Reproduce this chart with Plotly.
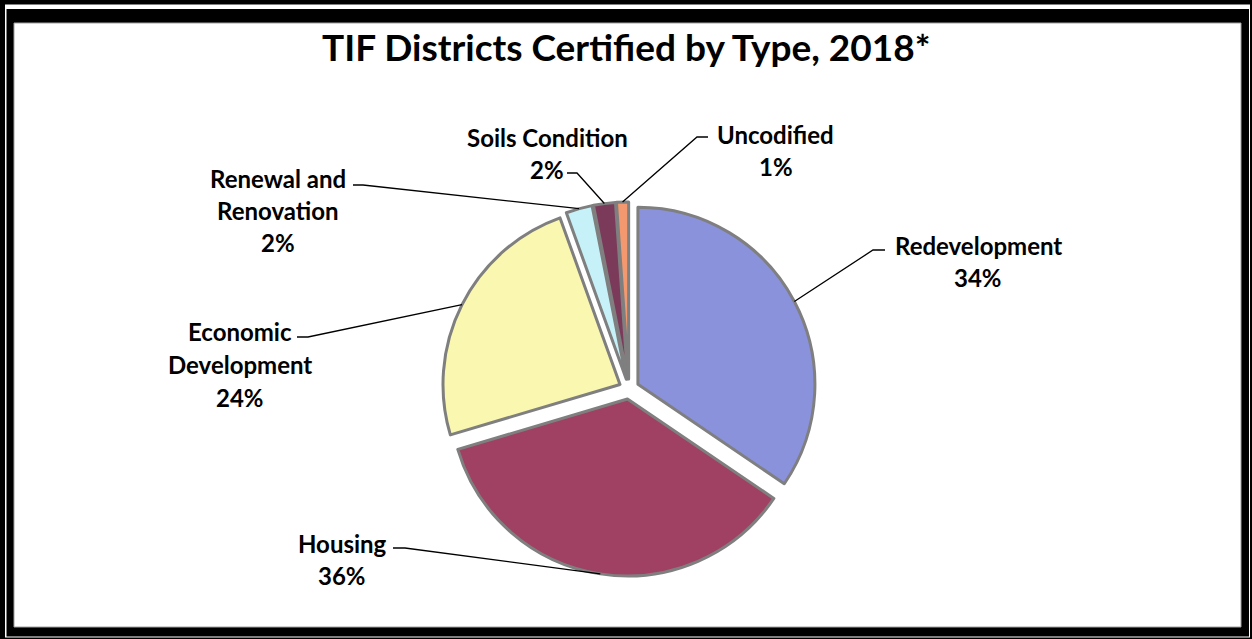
import math
import plotly.graph_objects as go

# ---------------- data ----------------
categories = ["Redevelopment", "Housing", "Economic Development",
              "Renewal and Renovation", "Soils Condition", "Uncodified"]
values = [34.5, 35.9, 24.1, 2.4, 2.0, 1.1]
label_lines = [["Redevelopment"], ["Housing"], ["Economic", "Development"],
               ["Renewal and", "Renovation"], ["Soils Condition"], ["Uncodified"]]
colors = ["#8B92DC", "#A04062", "#FAF8B0", "#C6F1F8", "#7B3A5A", "#F4996F"]
title_text = "TIF Districts Certified by Type, 2018*"

# ---------------- layout geometry (pixels) ----------------
W, H = 1252, 639
CX, CY, R, PULL = 629, 389, 177, 0.057
half = R * (1 + PULL)

def px(x):
    return x / W

def py(y):
    return 1 - y / H

# label block: (center x, first line y), elbow (label-side x, bend x, y)
label_pos = [(978, 245), (342, 543), (240, 332), (278, 178), (547, 137), (776, 134)]
elbows = [(885, 873, 250), (393, 405, 548), (297, 308, 337),
          (353, 363, 185), (567, 577, 173), (708, 697, 137)]
LINE_H = 32.5

FONT = "Lato, 'Open Sans', sans-serif"

fig = go.Figure()
fig.add_trace(go.Pie(
    labels=categories, values=values, sort=False, direction="clockwise",
    rotation=0, pull=PULL, textinfo="none", hoverinfo="label+percent",
    marker=dict(colors=colors, line=dict(color="#7F7F7F", width=3)),
    domain=dict(x=[px(CX - half), px(CX + half)],
                y=[py(CY + half), py(CY - half)]),
    showlegend=False,
))

shapes = [
    # frame
    dict(type="rect", xref="paper", yref="paper", x0=px(5), x1=px(1250), y0=py(4.5), y1=py(637.5),
         fillcolor="white", line=dict(width=0), layer="below"),
    dict(type="rect", xref="paper", yref="paper", x0=px(6.5), x1=px(1249), y0=py(9), y1=py(636.5),
         fillcolor="black", line=dict(width=0), layer="below"),
    dict(type="rect", xref="paper", yref="paper", x0=px(14), x1=px(1241), y0=py(23), y1=py(627),
         fillcolor="white", line=dict(width=1, color="#A0A0A0"), layer="below"),
]

annotations = [dict(text=f"<b>{title_text}</b>", x=px(626), y=py(46), xref="paper", yref="paper",
                    showarrow=False, xanchor="center", yanchor="middle",
                    font=dict(family=FONT, size=37, color="black"))]

total = sum(values)
cum = 0.0
for i, v in enumerate(values):
    mid = (cum + v / 2) / total * 2 * math.pi
    cum += v
    ex = CX + half * math.sin(mid)
    ey = CY - half * math.cos(mid)
    x0, x1, yy = elbows[i]
    shapes.append(dict(type="path", xref="paper", yref="paper",
                       path=f"M {px(x0)},{py(yy)} L {px(x1)},{py(yy)} L {px(ex)},{py(ey)}",
                       line=dict(color="black", width=1.3), layer="above"))
    lx, ly = label_pos[i]
    lines = label_lines[i] + [f"{round(v / total * 100)}%"]
    for k, t in enumerate(lines):
        annotations.append(dict(text=f"<b>{t}</b>", x=px(lx), y=py(ly + k * LINE_H),
                                xref="paper", yref="paper", showarrow=False,
                                xanchor="center", yanchor="middle",
                                font=dict(family=FONT, size=24, color="black")))

fig.update_layout(
    width=W, height=H, autosize=False,
    margin=dict(l=0, r=0, t=0, b=0),
    paper_bgcolor="black", plot_bgcolor="white",
    shapes=shapes, annotations=annotations,
)

fig.write_html("out.html", config={"displayModeBar": False},
               post_script="document.body.style.margin='0';document.body.style.overflow='hidden';")
